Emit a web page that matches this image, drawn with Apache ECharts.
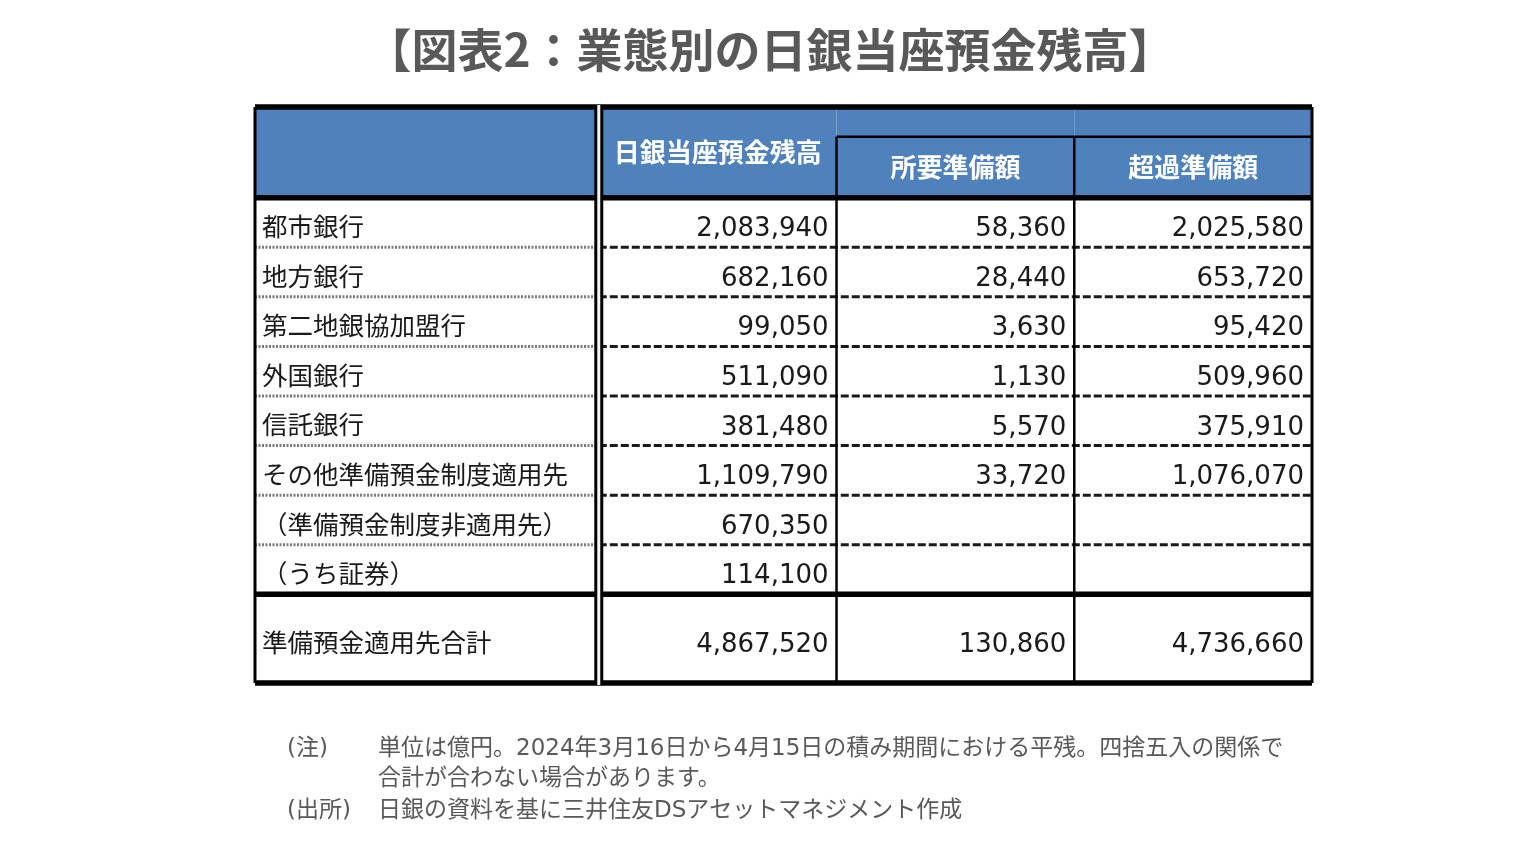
<!DOCTYPE html>
<html>
<head>
<meta charset="utf-8">
<script src="https://cdn.jsdelivr.net/npm/echarts@6/dist/echarts.min.js"></script>
<style>
  html, body { margin: 0; padding: 0; background: #fff; }
  #main { width: 1540px; height: 866px; }
</style>
</head>
<body>
<div id="main"></div>
<script>
// 表の中身
var headers = ['日銀当座預金残高', '所要準備額', '超過準備額'];
var rowLabels = ['都市銀行', '地方銀行', '第二地銀協加盟行', '外国銀行', '信託銀行',
  'その他準備預金制度適用先', '（準備預金制度非適用先）', '（うち証券）', '準備預金適用先合計'];
var balance = [2083940, 682160, 99050, 511090, 381480, 1109790, 670350, 114100, 4867520];
var required = [58360, 28440, 3630, 1130, 5570, 33720, null, null, 130860];
var excess = [2025580, 653720, 95420, 509960, 375910, 1076070, null, null, 4736660];

var titleText = '【図表2：業態別の日銀当座預金残高】';
var noteLines = [
  ['(注)', '単位は億円。2024年3月16日から4月15日の積み期間における平残。四捨五入の関係で'],
  ['', '合計が合わない場合があります。'],
  ['(出所)', '日銀の資料を基に三井住友DSアセットマネジメント作成']
];

// レイアウト（列幅・行高は相対単位）
var colW = [1.446, 1, 1, 1];
var rowH = [1.83, 1, 1, 1, 1, 1, 1, 1, 1, 1.79];
var subHeadTop = 0.6;

function edges(arr) {
  var out = [0];
  arr.forEach(function (v) { out.push(out[out.length - 1] + v); });
  return out;
}
var colE = edges(colW);
var rowE = edges(rowH);
var X = colE[colE.length - 1];
var Y = rowE[rowE.length - 1];

function fmt(v) {
  return v == null ? '' : v.toLocaleString('en-US');
}

// セル
var cells = [];
cells.push({ c: 0, r: 0, kind: 'head', text: '' });
headers.forEach(function (h, i) {
  cells.push({ c: i + 1, r: 0, kind: i === 0 ? 'head' : 'sub', text: h });
});
rowLabels.forEach(function (lab, i) {
  cells.push({ c: 0, r: i + 1, kind: 'label', text: lab });
  cells.push({ c: 1, r: i + 1, kind: 'num', text: fmt(balance[i]) });
  cells.push({ c: 2, r: i + 1, kind: 'num', text: fmt(required[i]) });
  cells.push({ c: 3, r: i + 1, kind: 'num', text: fmt(excess[i]) });
});

// 罫線
var lines = [];
for (var r = 2; r <= 8; r++) {
  lines.push([0, rowE[r], colE[1], rowE[r], 'dot']);
  lines.push([colE[1], rowE[r], X, rowE[r], 'dash']);
}
lines.push([colE[2], subHeadTop, X, subHeadTop, 'mid']);
lines.push([colE[2], subHeadTop, colE[2], Y, 'mid']);
lines.push([colE[3], subHeadTop, colE[3], Y, 'mid']);
lines.push([0, 0, 0, Y, 'side']);
lines.push([X, 0, X, Y, 'side']);
lines.push([0, 0, X, 0, 'thick']);
lines.push([0, rowE[1], X, rowE[1], 'thick']);
lines.push([0, rowE[9], X, rowE[9], 'thick']);
lines.push([0, Y, X, Y, 'thick']);
lines.push([colE[1], 0, colE[1], Y, 'double']);

var lineStyles = {
  dot: { stroke: '#7a7a7a', lineWidth: 3, lineDash: [2, 1.5] },
  dash: { stroke: '#1a1a1a', lineWidth: 3, lineDash: [8, 3] },
  mid: { stroke: '#000', lineWidth: 2.5 },
  side: { stroke: '#000', lineWidth: 3 },
  thick: { stroke: '#000', lineWidth: 5.5 }
};

var BLUE = '#4f81bd';
var JP = '"Noto Sans CJK JP", sans-serif';
var NUM = '"DejaVu Sans", "Noto Sans CJK JP", sans-serif';

function renderCell(params, api) {
  var d = cells[params.dataIndex];
  var p0 = api.coord([colE[d.c], rowE[d.r]]);
  var p1 = api.coord([colE[d.c + 1], rowE[d.r + 1]]);
  var kids = [];
  var cy = (p0[1] + p1[1]) / 2;
  if (d.kind === 'head' || d.kind === 'sub') {
    kids.push({ type: 'rect', shape: { x: p0[0], y: p0[1], width: p1[0] - p0[0], height: p1[1] - p0[1] },
      style: { fill: BLUE } });
    var ty = cy;
    if (d.kind === 'sub') {
      ty = (api.coord([0, subHeadTop])[1] + p1[1]) / 2;
    }
    if (d.text) {
      kids.push({ type: 'text', style: { text: d.text, x: (p0[0] + p1[0]) / 2, y: ty,
        textAlign: 'center', textVerticalAlign: 'middle', fill: '#fff',
        font: 'bold 26px ' + JP } });
    }
  } else if (d.kind === 'label') {
    kids.push({ type: 'text', style: { text: d.text, x: p0[0] + 7, y: cy + 4,
      textAlign: 'left', textVerticalAlign: 'middle', fill: '#1a1a1a', font: '25.5px ' + JP } });
  } else {
    kids.push({ type: 'text', style: { text: d.text, x: p1[0] - 8, y: cy + 7,
      textAlign: 'right', textVerticalAlign: 'middle', fill: '#1a1a1a', font: '26px ' + NUM } });
  }
  return { type: 'group', children: kids };
}

function renderLine(params, api) {
  var l = lines[params.dataIndex];
  var a = api.coord([l[0], l[1]]);
  var b = api.coord([l[2], l[3]]);
  if (l[4] === 'double') {
    return { type: 'group', children: [
      { type: 'line', shape: { x1: a[0], y1: a[1] - 2, x2: b[0], y2: b[1] + 2 }, style: { stroke: '#000', lineWidth: 9 } },
      { type: 'line', shape: { x1: a[0], y1: a[1] - 2, x2: b[0], y2: b[1] + 2 }, style: { stroke: '#f4f4f4', lineWidth: 3 } }
    ] };
  }
  var s = lineStyles[l[4]];
  return { type: 'line', shape: { x1: a[0], y1: a[1], x2: b[0], y2: b[1] },
    style: { stroke: s.stroke, lineWidth: s.lineWidth, lineDash: s.lineDash || null } };
}

var titles = [{
  text: titleText, left: 'center', top: 22,
  textStyle: { fontFamily: 'Noto Sans CJK JP', fontSize: 46, fontWeight: 'bold', color: '#595959' }
}];
noteLines.forEach(function (n, i) {
  var top = 738 + i * 30 + (i === 2 ? 2 : 0);
  if (n[0]) {
    titles.push({ text: n[0], left: 287, top: top, padding: 0,
      textStyle: { fontFamily: NUM, fontSize: 23, fontWeight: 'normal', color: '#595959' } });
  }
  titles.push({ text: n[1], left: 378, top: top, padding: 0,
    textStyle: { fontFamily: NUM, fontSize: 23, fontWeight: 'normal', color: '#595959' } });
});

var chart = echarts.init(document.getElementById('main'), null, { renderer: 'canvas' });
chart.setOption({
  backgroundColor: '#fff',
  animation: false,
  title: titles,
  grid: { left: 255, top: 107, width: 1057, height: 576 },
  xAxis: { type: 'value', min: 0, max: X, show: false },
  yAxis: { type: 'value', min: 0, max: Y, inverse: true, show: false },
  series: [
    {
      type: 'custom', renderItem: renderCell, clip: false,
      data: cells.map(function (d) { return [d.c, d.r]; })
    },
    {
      type: 'custom', renderItem: renderLine, clip: false,
      data: lines.map(function (l) { return [l[0], l[1]]; })
    }
  ]
});
</script>
</body>
</html>
